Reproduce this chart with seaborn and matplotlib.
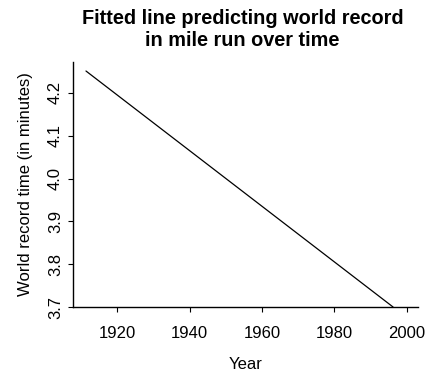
import matplotlib
matplotlib.use("Agg")
import matplotlib.pyplot as plt
import seaborn as sns
import pandas as pd

sns.set_style("ticks")
plt.rcParams['font.family'] = ['Liberation Sans', 'DejaVu Sans']
plt.rcParams['text.color'] = 'black'
plt.rcParams['axes.labelcolor'] = 'black'

years = [1911.3, 1996.2]
fitted_time = [4.251, 3.700]
x_ticks = [1920, 1940, 1960, 1980, 2000]
y_ticks = [3.7, 3.8, 3.9, 4.0, 4.1, 4.2]

df = pd.DataFrame({"Year": years, "Time": fitted_time})

fig = plt.figure(figsize=(4.27, 3.72), dpi=100)
ax = fig.add_axes([0.1717, 0.1747, 0.979 - 0.1717, 0.8333 - 0.1747])
sns.lineplot(data=df, x="Year", y="Time", ax=ax, color="black", linewidth=0.9)

ax.set_xlim(1907.8, 2003.1)
ax.set_ylim(3.7, 4.272)
ax.set_xticks(x_ticks)
ax.set_yticks(y_ticks)
ax.set_yticklabels([f"{v:.1f}" for v in y_ticks], rotation=90, va="center")
ax.tick_params(axis="both", direction="out", length=3.5, width=0.8, labelsize=12, colors="black")
ax.tick_params(axis="x", pad=10)
ax.tick_params(axis="y", pad=4)
for s in ["top", "right"]:
    ax.spines[s].set_visible(False)
for s in ["left", "bottom"]:
    ax.spines[s].set_linewidth(1.0)
    ax.spines[s].set_color("black")

ax.set_xlabel("Year", fontsize=12, labelpad=12)
ax.set_ylabel("World record time (in minutes)", fontsize=12, labelpad=11)
fig.suptitle("Fitted line predicting world record\nin mile run over time",
             fontsize=14.3, fontweight="bold", x=0.568, y=0.975, linespacing=1.2,
             color="black")

fig.savefig("out.png", dpi=100)
